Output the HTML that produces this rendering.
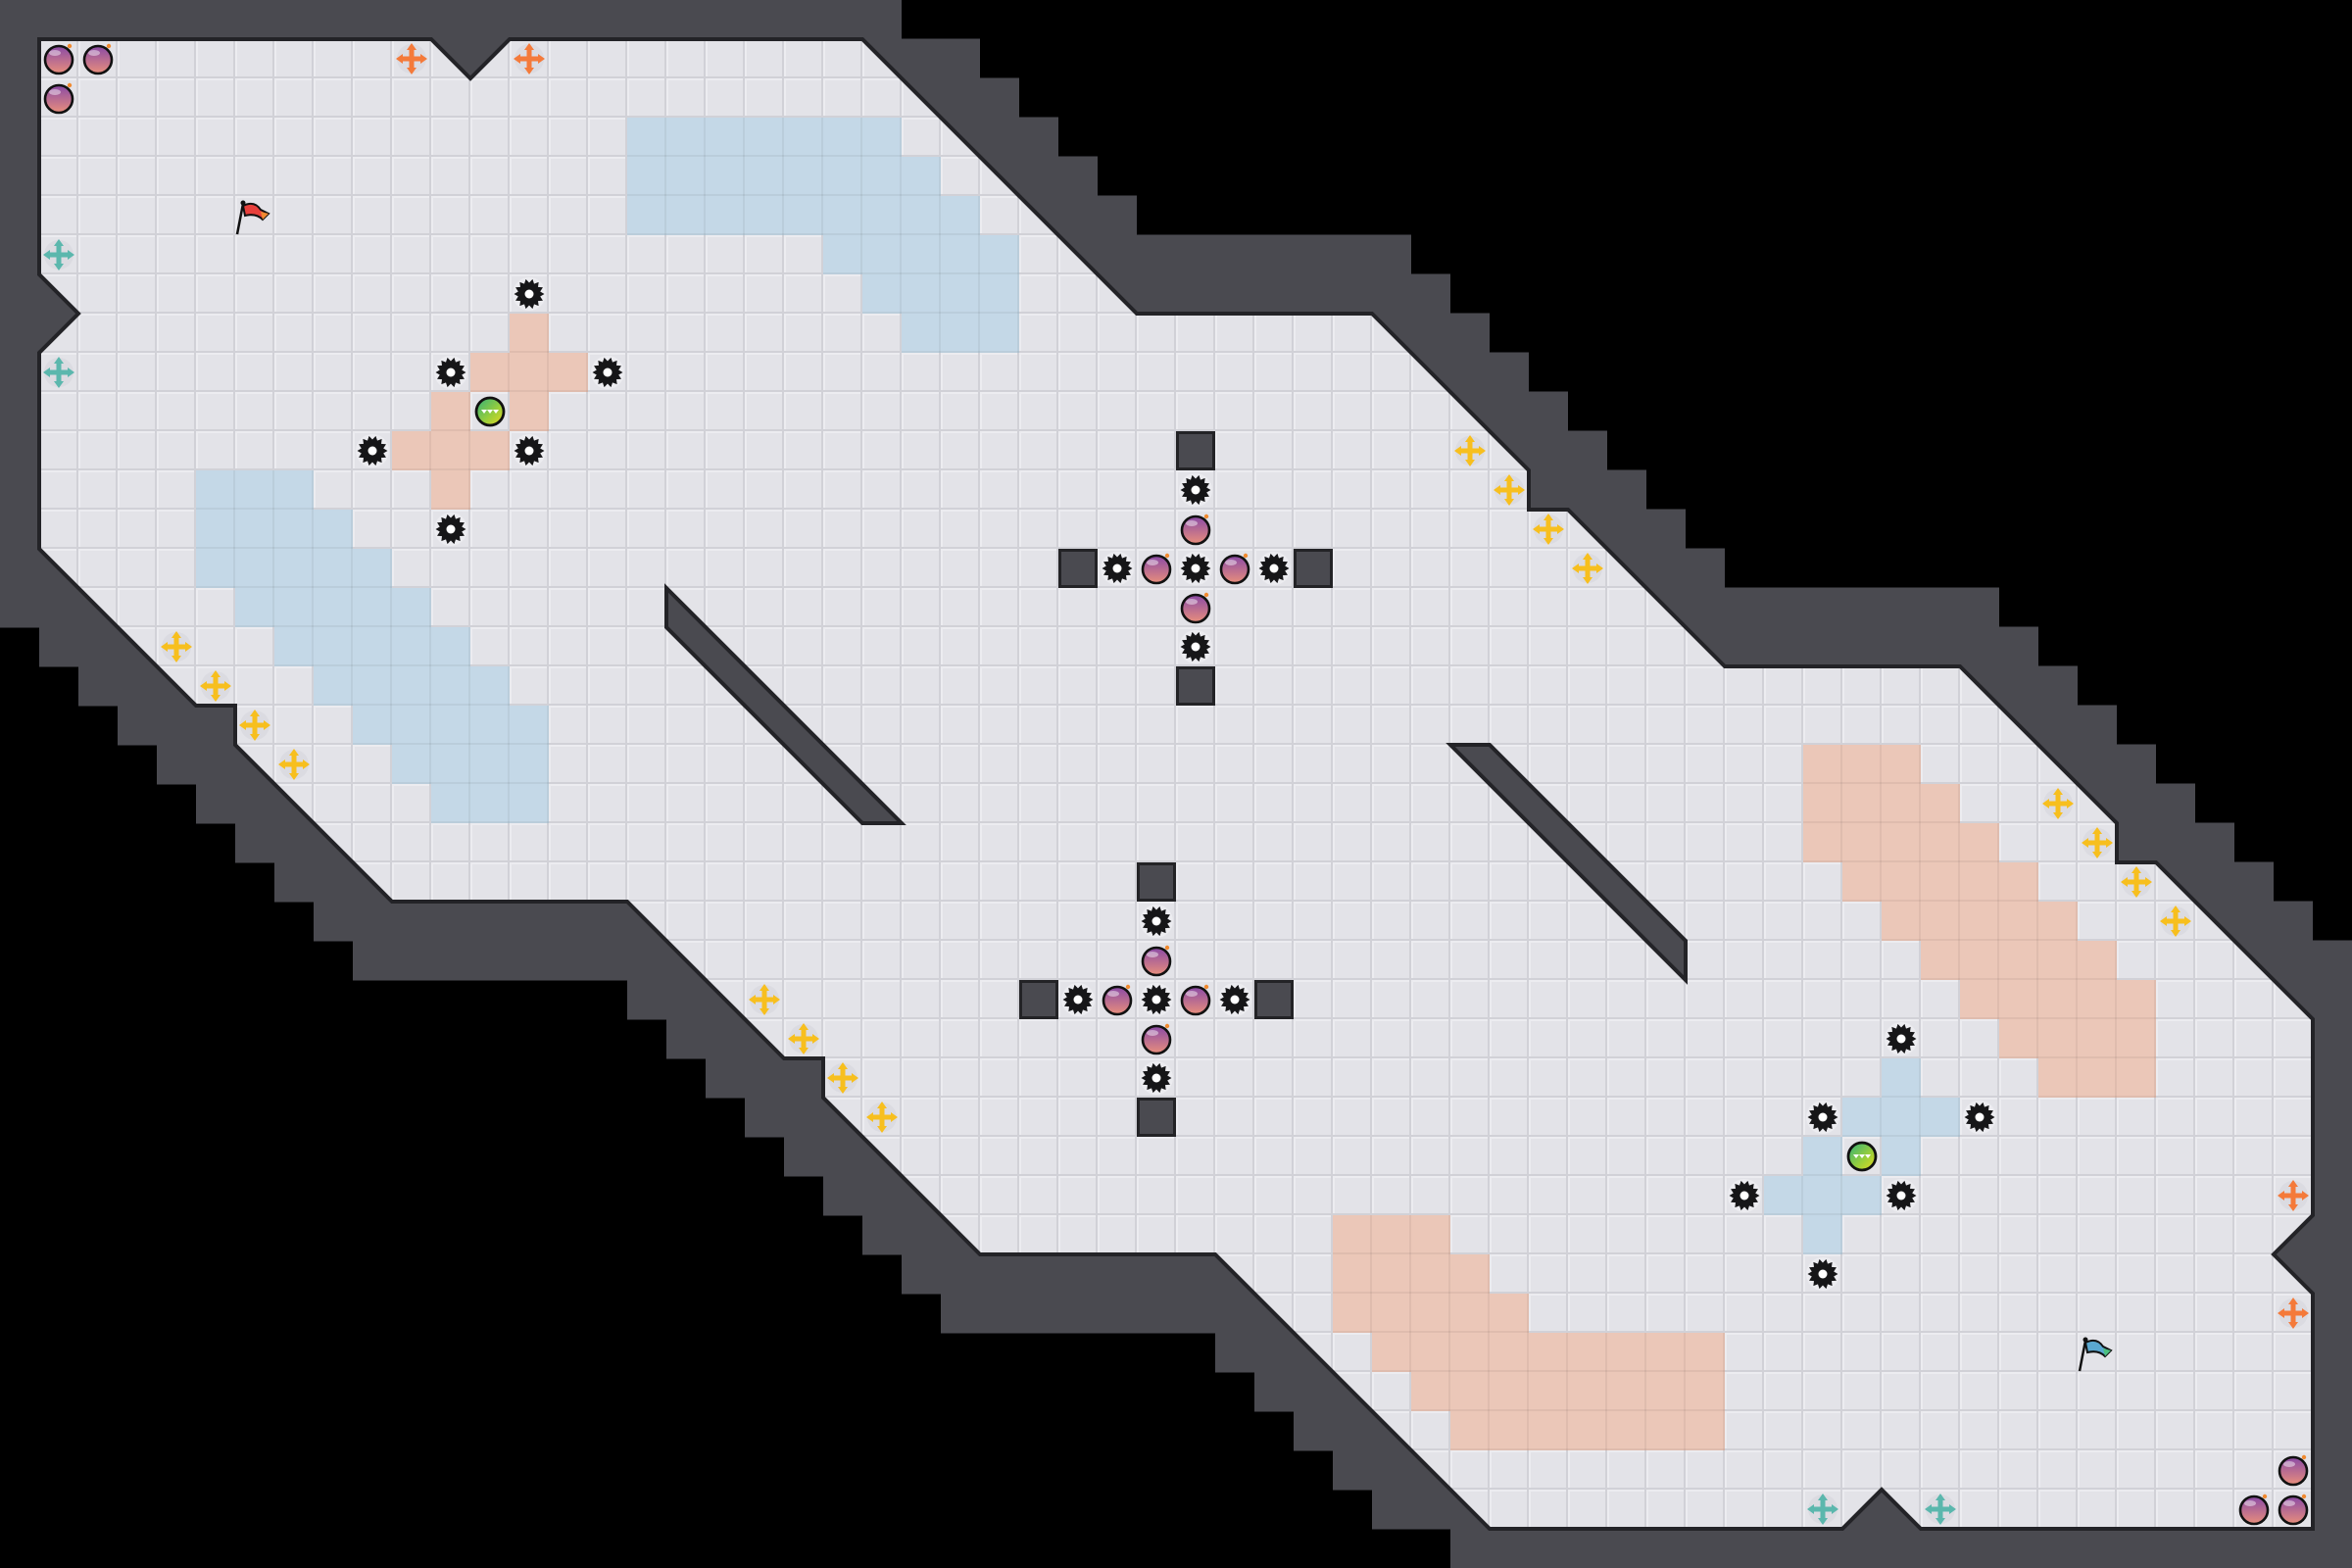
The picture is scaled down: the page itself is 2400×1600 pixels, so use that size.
<!DOCTYPE html>
<html><head><meta charset="utf-8">
<style>html,body{margin:0;padding:0;background:#000;width:2400px;height:1600px;overflow:hidden}svg{display:block}</style>
</head><body>
<svg id="s" xmlns="http://www.w3.org/2000/svg" width="2400" height="1600" viewBox="0 0 2400 1600">
<defs>
<pattern id="tile" x="40" y="40" width="40" height="40" patternUnits="userSpaceOnUse">
<rect width="40" height="40" fill="#e3e3e8"/>
<rect x="0" y="0" width="40" height="2" fill="#ececf0"/>
<rect x="0" y="0" width="2" height="40" fill="#ececf0"/>
<rect x="0" y="38" width="40" height="2" fill="#d1d1d7"/>
<rect x="38" y="0" width="2" height="40" fill="#d1d1d7"/>
</pattern>
<linearGradient id="bombg" x1="0" y1="0" x2="0" y2="1"><stop offset="0" stop-color="#8a4aa6"/><stop offset="1" stop-color="#e88e7c"/></linearGradient>
<linearGradient id="ballg" x1="0" y1="0" x2="1" y2="1"><stop offset="0" stop-color="#2fb07a"/><stop offset="0.6" stop-color="#9ccf3a"/><stop offset="1" stop-color="#e8d820"/></linearGradient>
<symbol id="bomb" viewBox="-20 -20 40 40" width="40" height="40" overflow="visible">
<circle cx="0" cy="1" r="14" fill="url(#bombg)" stroke="#111" stroke-width="2.6"/>
<ellipse cx="-4" cy="-6" rx="6" ry="3" fill="#fff" opacity="0.45"/>
<circle cx="11" cy="-13" r="2.2" fill="#f08a30"/>
</symbol>
<symbol id="ball" viewBox="-20 -20 40 40" width="40" height="40" overflow="visible">
<circle cx="0" cy="0" r="14" fill="url(#ballg)" stroke="#111" stroke-width="2.8"/>
<path d="M-6,-2 l3,4 l3,-4 z M0,-2 l3,4 l3,-4 z M6,-2 l3,4 l3,-4 z" fill="#fff" transform="translate(-3,0)"/>
</symbol>
<symbol id="block" viewBox="0 0 40 40" width="40" height="40">
<rect x="0" y="0" width="40" height="40" fill="#232326"/>
<rect x="3" y="3" width="34" height="34" fill="#4a4a50"/>
</symbol>
</defs>
<g id="walls"></g>
<polygon id="floor" fill="url(#tile)" stroke="#232327" stroke-width="4" stroke-linejoin="miter"/>
<g id="colored"></g>
<g id="inner"></g>
<g id="items"></g>
</svg>
<script>
(function(){
var NS="http://www.w3.org/2000/svg";
function el(t,a,p){var e=document.createElementNS(NS,t);for(var k in a)e.setAttribute(k,a[k]);(p||document.getElementById('s')).appendChild(e);return e;}
var P=[[0,0],[10,0],[11,1],[12,0],[21,0],[28,7],[34,7],[38,11],[38,12],[39,12],[43,16],[49,16],[53,20],[53,21],[54,21],[58,25],[58,30],[57,31],[58,32],[58,38],[48,38],[47,37],[46,38],[37,38],[30,31],[24,31],[20,27],[20,26],[19,26],[15,22],[9,22],[5,18],[5,17],[4,17],[0,13],[0,8],[1,7],[0,6]];
function X(g){return 40+40*g;}
document.getElementById('floor').setAttribute('points',P.map(function(p){return X(p[0])+','+X(p[1]);}).join(' '));
var RT={'-1':21,0:23,1:24,2:25,3:26,4:27,5:34,6:35,7:36,8:37,9:38,10:39,11:40,12:41,13:42,14:49,15:50,16:51,17:52,18:53,19:54,20:55,21:56,22:57};
function R(r){return r>=23?58:RT[r];}
function L(r){return r<=14?-1:57-R(37-r);}
var W=document.getElementById('walls');
for(var r=-1;r<=38;r++){var l=L(r),rr=R(r);el('rect',{x:X(l),y:X(r)-0.5,width:(rr-l+1)*40,height:41,fill:'#4a4a50'},W);}
var C=document.getElementById('colored');
function region(rows,col){rows.forEach(function(q){for(var c=q[1];c<=q[2];c++){el('rect',{x:X(c),y:X(q[0]),width:40,height:40,fill:col},C);el('rect',{x:X(c)+38,y:X(q[0]),width:2,height:40,fill:'rgba(0,0,0,0.05)'},C);el('rect',{x:X(c),y:X(q[0])+38,width:40,height:2,fill:'rgba(0,0,0,0.05)'},C);}});}
var B='#c4d8e7',Pe='#ebc7b8';
region([[2,15,21],[3,15,22],[4,15,23],[5,20,24],[6,21,24],[7,22,24]],B);
region([[35,36,42],[34,35,42],[33,34,42],[32,33,37],[31,33,36],[30,33,35]],Pe);
region([[11,4,6],[12,4,7],[13,4,8],[14,5,9],[15,6,10],[16,7,11],[17,8,12],[18,9,12],[19,10,12]],B);
region([[26,51,53],[25,50,53],[24,49,53],[23,48,52],[22,47,51],[21,46,50],[20,45,49],[19,45,48],[18,45,47]],Pe);
var pc=[[12,7],[11,8],[12,8],[13,8],[10,9],[12,9],[9,10],[10,10],[11,10],[10,11]];
pc.forEach(function(p){region([[p[1],p[0],p[0]]],Pe);region([[37-p[1],57-p[0],57-p[0]]],B);});
var I=document.getElementById('inner');
function poly(pts){el('polygon',{points:pts.map(function(p){return X(p[0])+','+X(p[1]);}).join(' '),fill:'#4a4a50',stroke:'#232327','stroke-width':4,'stroke-linejoin':'miter'},I);}
poly([[16,14],[22,20],[21,20],[16,15]]);
poly([[36,18],[37,18],[42,23],[42,24]]);
var G=document.getElementById('items');
function cx(c){return X(c)+20;}
function use(id,c,r){el('use',{href:'#'+id,x:X(c),y:X(r),width:40,height:40},G);}
var gp=[];for(var i=0;i<28;i++){var a=i*Math.PI/14,rr=(i%2?11.5:15.5);gp.push((Math.cos(a)*rr).toFixed(2)+','+(Math.sin(a)*rr).toFixed(2));}
function gear(c,r){var g=el('g',{transform:'translate('+cx(c)+','+cx(r)+')'},G);el('circle',{r:17,fill:'#ececf0'},g);el('polygon',{points:gp.join(' '),fill:'#161618'},g);el('circle',{r:4.5,fill:'#fff'},g);}
function arrow(c,r,col){var g=el('g',{transform:'translate('+cx(c)+','+cx(r)+')'},G);el('circle',{r:15,fill:'#d8d8de',opacity:0.8},g);
el('rect',{x:-2.5,y:-11,width:5,height:22,fill:col},g);el('rect',{x:-11,y:-2.5,width:22,height:5,fill:col},g);
el('polygon',{points:'0,-16 -5,-9 5,-9',fill:col},g);el('polygon',{points:'0,16 -5,9 5,9',fill:col},g);el('polygon',{points:'-16,0 -9,-5 -9,5',fill:col},g);el('polygon',{points:'16,0 9,-5 9,5',fill:col},g);}
function flag(c,r,col,tail){var g=el('g',{transform:'translate('+X(c)+','+X(r)+')'},G);
el('path',{d:'M8,10 C16,6 22,8 26,14 L34,18 L28,24 C24,20 18,18 10,20 Z',fill:col,stroke:'#111','stroke-width':2},g);
el('path',{d:'M26,16 L34,18 L28,24 Z',fill:tail},g);
el('line',{x1:8,y1:8,x2:2,y2:39,stroke:'#111','stroke-width':2.5},g);el('circle',{cx:8,cy:7,r:2.5,fill:'#111'},g);}
function cross(cc,rr){use('block',cc,rr-3);gear(cc,rr-2);use('bomb',cc,rr-1);use('block',cc-3,rr);gear(cc-2,rr);use('bomb',cc-1,rr);gear(cc,rr);use('bomb',cc+1,rr);gear(cc+2,rr);use('block',cc+3,rr);use('bomb',cc,rr+1);gear(cc,rr+2);use('block',cc,rr+3);}
cross(29,13);cross(28,24);
[[12,6],[10,8],[14,8],[8,10],[12,10],[10,12]].forEach(function(p){gear(p[0],p[1]);gear(57-p[0],37-p[1]);});
use('ball',11,9);use('ball',46,28);
[[0,0],[1,0],[0,1]].forEach(function(p){use('bomb',p[0],p[1]);use('bomb',57-p[0],37-p[1]);});
var OR='#f47a3a',TE='#5bb7ad',YE='#f7bf1e';
arrow(9,0,OR);arrow(12,0,OR);arrow(48,37,TE);arrow(45,37,TE);
arrow(0,5,TE);arrow(0,8,TE);arrow(57,32,OR);arrow(57,29,OR);
[[3,15],[4,16],[5,17],[6,18],[36,10],[37,11],[38,12],[39,13]].forEach(function(p){arrow(p[0],p[1],YE);arrow(57-p[0],37-p[1],YE);});
flag(5,4,'#e8403c','#f08a30');flag(52,33,'#5aa8d0','#4cc080');
})();
</script>
</body></html>
